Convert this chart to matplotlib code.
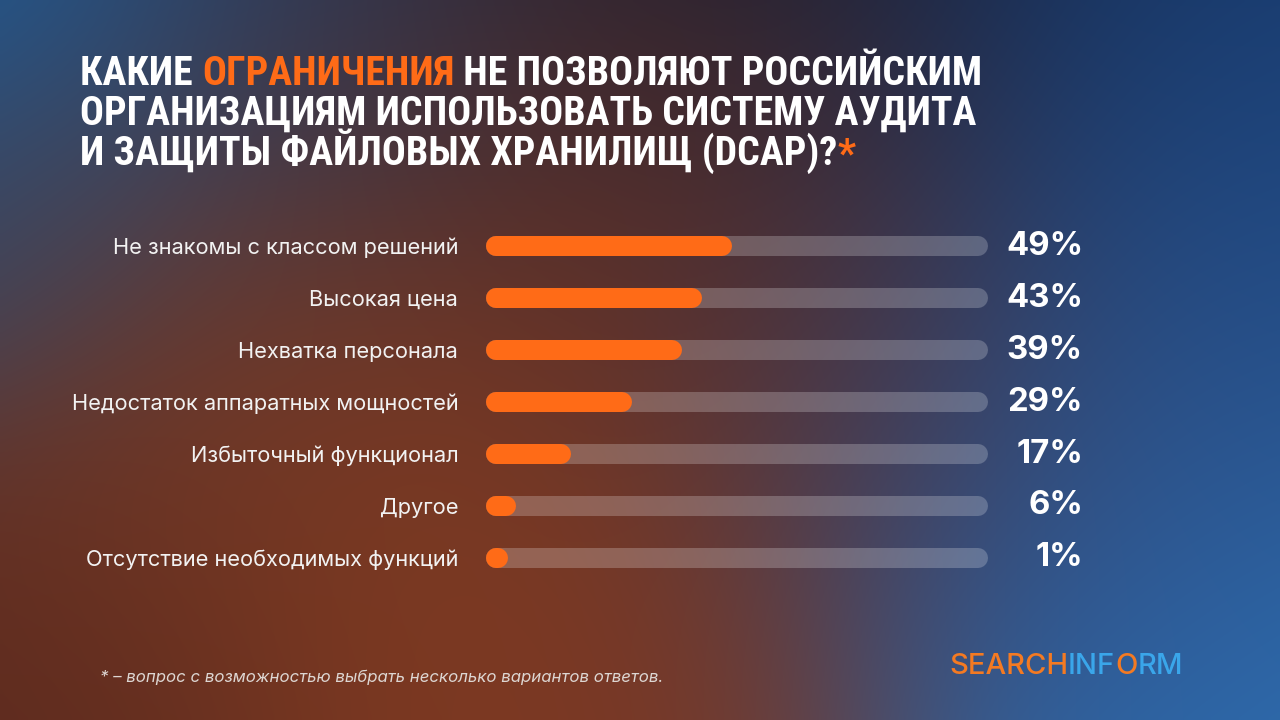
import numpy as np
import matplotlib
matplotlib.use('Agg')
import matplotlib.pyplot as plt
from matplotlib import font_manager
from matplotlib.colors import to_rgb

labels = ['Не знакомы с классом решений', 'Высокая цена', 'Нехватка персонала',
          'Недостаток аппаратных мощностей', 'Избыточный функционал', 'Другое',
          'Отсутствие необходимых функций']
values = [49, 43, 39, 29, 17, 6, 1]

title_lines = [
    [('КАКИЕ ', 'w'), ('ОГРАНИЧЕНИЯ', 'o'), (' НЕ ПОЗВОЛЯЮТ РОССИЙСКИМ', 'w')],
    [('ОРГАНИЗАЦИЯМ ИСПОЛЬЗОВАТЬ СИСТЕМУ АУДИТА', 'w')],
    [('И ЗАЩИТЫ ФАЙЛОВЫХ ХРАНИЛИЩ (DCAP)?', 'w'), ('*', 'o')],
]
footnote = '* – вопрос с возможностью выбрать несколько вариантов ответов.'

ORANGE = '#ff6b17'
WHITE = '#ffffff'
BLUE_LOGO = '#3aa6ea'

W, H = 1280, 720
fig = plt.figure(figsize=(12.8, 7.2), dpi=100)

# background: soft blend of colour spots
spots = [
    (0, 0, '#1f5a94', 220), (0, 230, '#3c4258', 110), (330, 40, '#34344a', 170),
    (700, 0, '#1c1c2c', 230), (1150, 30, '#152f5a', 230), (1280, 130, '#1d4a88', 180),
    (630, 250, '#6e3222', 190), (200, 390, '#6c3424', 170), (380, 480, '#863e21', 220),
    (80, 660, '#5a291e', 170), (600, 690, '#7a3622', 190), (870, 350, '#4a3646', 160),
    (1060, 500, '#2f5088', 190), (1260, 680, '#2d70b4', 230), (1250, 320, '#2a5590', 170),
]
yy, xx = np.mgrid[0:H:4, 0:W:4]
num = np.zeros(xx.shape + (3,))
den = np.zeros(xx.shape)
for sx, sy, c, s in spots:
    w = np.exp(-((xx - sx) ** 2 + (yy - sy) ** 2) / (2 * s ** 2))
    num += w[..., None] * np.array(to_rgb(c))
    den += w
bg = num / den[..., None]
bax = fig.add_axes([0, 0, 1, 1])
bax.imshow(bg, extent=[0, W, H, 0], aspect='auto', interpolation='bilinear')
bax.set_xlim(0, W)
bax.set_ylim(H, 0)
bax.axis('off')

# bars
left, right, top, bottom = 486, 988, 220, 584
ax = fig.add_axes([left / W, 1 - bottom / H, (right - left) / W, (bottom - top) / H])
ax.patch.set_alpha(0)
n = len(values)
ax.set_xlim(0, 100)
ax.set_ylim(n - 0.5, -0.5)
r = 10 / (right - left) * 100
lw = 20 * 72 / 100
for i, v in enumerate(values):
    ax.plot([r, 100 - r], [i, i], color='white', alpha=0.22, lw=lw, solid_capstyle='round')
    ax.plot([r, max(v - r, r + 0.3)], [i, i], color=ORANGE, lw=lw, solid_capstyle='round')
    ax.annotate(f'{v}%', xy=(1, i), xycoords=ax.get_yaxis_transform(),
                xytext=(95 * 0.72, 0), textcoords='offset points',
                ha='right', va='center', color=WHITE, fontsize=23.7,
                fontweight='bold', family='Inter')
ax.set_yticks(range(n))
ax.set_yticklabels(labels, family='Inter', fontsize=15.7, color='#f2f2f2')
ax.tick_params(axis='y', length=0, pad=20)
ax.set_xticks([])
for s in ax.spines.values():
    s.set_visible(False)

# title: narrowest bold family available, sized to the reference width
names = {f.name for f in font_manager.fontManager.ttflist}
tfam = 'Roboto'
for cand in ['Roboto Condensed', 'Noto Sans Condensed', 'Liberation Sans Narrow',
             'Open Sans Condensed', 'Noto Sans Display Condensed']:
    if cand in names:
        tfam = cand
        break
tfont = dict(family=tfam, fontweight='bold', fontsize=30)
renderer = fig.canvas.get_renderer()
probe = fig.text(0, 0, title_lines[1][0][0], **tfont)
pw = probe.get_window_extent(renderer).width
probe.remove()
tfont['fontsize'] = min(30, 30 * 895 / pw)

cols = {'w': WHITE, 'o': ORANGE}
for li, parts in enumerate(title_lines):
    y = 1 - (85 + li * 40) / H
    prev = None
    for txt, c in parts:
        if prev is None:
            prev = fig.text(80 / W, y, txt, color=cols[c], va='baseline', **tfont)
        else:
            prev = bax.annotate(txt, xy=(1, 0), xycoords=prev, va='bottom', ha='left',
                                color=cols[c], **tfont)

# footnote
fig.text(100 / W, 1 - 677 / H, footnote, family='Inter', style='italic', fontsize=12.1,
         color='#ddd6d2', va='center')

# logo
lfont = dict(family='Inter', fontweight='medium', fontsize=21)
prev = fig.text(949 / W, 1 - 667 / H, 'SEARCH', color='#f47a22', va='center', **lfont)
for txt, c in [('INF', BLUE_LOGO), ('O', '#f47a22'), ('RM', BLUE_LOGO)]:
    prev = bax.annotate(txt, xy=(1, 0), xycoords=prev, va='bottom', color=c, **lfont)

fig.savefig('out.png', dpi=100)
